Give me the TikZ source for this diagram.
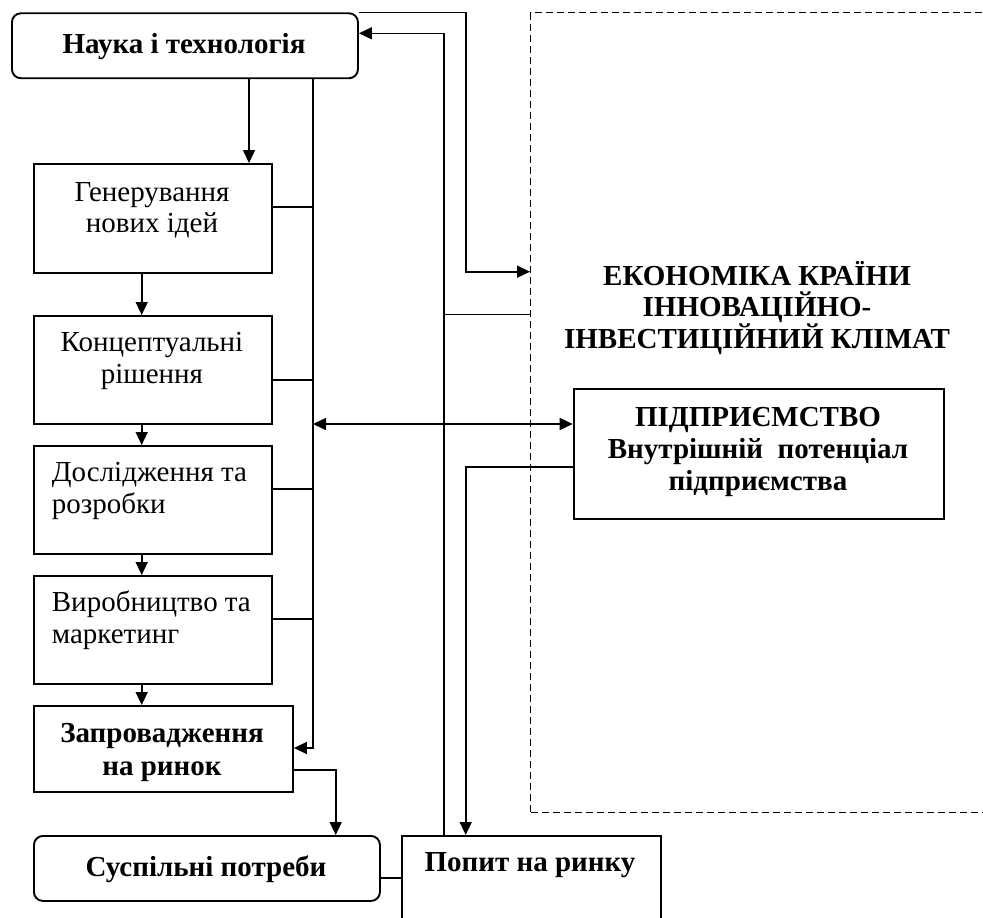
\documentclass[tikz,border=0pt]{standalone}
\usepackage{fontspec}
\setmainfont{Liberation Serif}
\usetikzlibrary{arrows.meta,calc}
\begin{document}
\begin{tikzpicture}[x=1pt,y=-1pt,
  box/.style={draw,line width=1.9pt,inner sep=0pt,anchor=north west},
  rbox/.style={box,rounded corners=9pt},
  dbox/.style={draw,line width=1.1pt,dash pattern=on 7pt off 4pt,inner sep=0pt,anchor=north west},
  conn/.style={line width=1.6pt},
  arr/.style={conn,-{Triangle[length=13pt,width=12pt]}},
  darr/.style={conn,{Triangle[length=13pt,width=12pt]}-{Triangle[length=13pt,width=12pt]}},
  regtxt/.style={font=\fontsize{29}{31.5}\selectfont,inner sep=0pt,align=center,anchor=base},
  regltxt/.style={font=\fontsize{29}{31.5}\selectfont,inner sep=0pt,align=left,anchor=base west},
  bldtxt/.style={font=\fontsize{29}{33}\selectfont\bfseries,inner sep=0pt,align=center,anchor=base},
]
\useasboundingbox (0,0) rectangle (983,918);

% boxes
\node[rbox,minimum width=346pt,minimum height=65pt] (nauka) at (11,12.3) {};
\node[box,minimum width=238pt,minimum height=109pt] (gen) at (33,163) {};
\node[box,minimum width=238pt,minimum height=108pt] (konc) at (33,315) {};
\node[box,minimum width=238pt,minimum height=108pt] (dosl) at (33,445) {};
\node[box,minimum width=238pt,minimum height=108pt] (vyr) at (33,575) {};
\node[box,minimum width=259pt,minimum height=86pt] (zapr) at (33,705) {};
\node[rbox,minimum width=346pt,minimum height=65pt] (susp) at (33,835) {};
\node[box,minimum width=259.3pt,minimum height=100pt] (popyt) at (400.7,835) {};
\node[dbox,minimum width=480pt,minimum height=800pt] (econ) at (530,12.3) {};
\node[box,minimum width=370.3pt,minimum height=130pt] (pidpr) at (572.7,388.3) {};

% texts (multi-line nodes: anchor base = baseline of the last line)
\node[bldtxt] (naukat) at (184,53) {Наука і технологія};
\node[regtxt] (gent) at (152,232.5) {Генерування\\нових ідей};
\node[regtxt] (konct) at (152,383.2) {Концептуальні\\рішення};
\node[regltxt] (doslt) at (51.7,513.2) {Дослідження та\\розробки};
\node[regltxt] (vyrt) at (51.7,643.2) {Виробництво та\\маркетинг};
\node[bldtxt] (zaprt) at (162,775) {Запровадження\\на ринок};
\node[bldtxt] (suspt) at (206,876.7) {Суспільні потреби};
\node[bldtxt] (popytt) at (530,871.7) {Попит на ринку};
\node[bldtxt,font=\fontsize{29}{30.5}\selectfont\bfseries] (econt) at (757,348) {ЕКОНОМІКА КРАЇНИ\\ІННОВАЦІЙНО-\\ІНВЕСТИЦІЙНИЙ КЛІМАТ};
\node[bldtxt,font=\fontsize{29}{31.7}\selectfont\bfseries] (pidprt) at (758,490) {ПІДПРИЄМСТВО\\Внутрішній~ потенціал\\підприємства};

% helper coordinates
\coordinate (xa) at (249,0);
\coordinate (xb) at (313,0);
\coordinate (xm) at (141.7,0);
\coordinate (xc) at (444,0);
\coordinate (xd) at (465.7,0);
\coordinate (xe) at (335.7,0);
\coordinate (busend) at (313,748);
\coordinate (hy1) at (0,207);
\coordinate (hy2) at (0,380);
\coordinate (hy3) at (0,489);
\coordinate (hy4) at (0,619);
\coordinate (dy) at (0,424);
\coordinate (zy) at (0,770);
\coordinate (sy) at (0,877.7);
\coordinate (ny) at (0,33.3);
\coordinate (ey) at (0,271.7);
\coordinate (cy) at (0,314.3);
\coordinate (py) at (0,466.7);

% main chain
\draw[arr] (nauka.south -| xa) -- (gen.north -| xa);
\draw[arr] (gen.south -| xm) -- (konc.north -| xm);
\draw[arr] (konc.south -| xm) -- (dosl.north -| xm);
\draw[arr] (dosl.south -| xm) -- (vyr.north -| xm);
\draw[arr] (vyr.south -| xm) -- (zapr.north -| xm);

% bus
\draw[arr] (nauka.south -| xb) -- (busend) -- (zapr.east |- busend);
\draw[conn] (gen.east |- hy1) -- (xb |- hy1);
\draw[conn] (konc.east |- hy2) -- (xb |- hy2);
\draw[conn] (dosl.east |- hy3) -- (xb |- hy3);
\draw[conn] (vyr.east |- hy4) -- (xb |- hy4);
\draw[darr] (xb |- dy) -- (pidpr.west |- dy);

% bottom
\draw[arr] (zapr.east |- zy) -- (xe |- zy) -- (susp.north -| xe);
\draw[conn] (susp.east |- sy) -- (popyt.west |- sy);

% right loops
\draw[arr] (nauka.north east) -- (xd |- nauka.north) -- (xd |- ey) -- (econ.west |- ey);
\draw[arr] (popyt.north -| xc) -- (xc |- ny) -- (nauka.east |- ny);
\draw[conn] (xc |- cy) -- (econ.west |- cy);
\draw[arr] (pidpr.west |- py) -- (xd |- py) -- (popyt.north -| xd);
\end{tikzpicture}
\end{document}
